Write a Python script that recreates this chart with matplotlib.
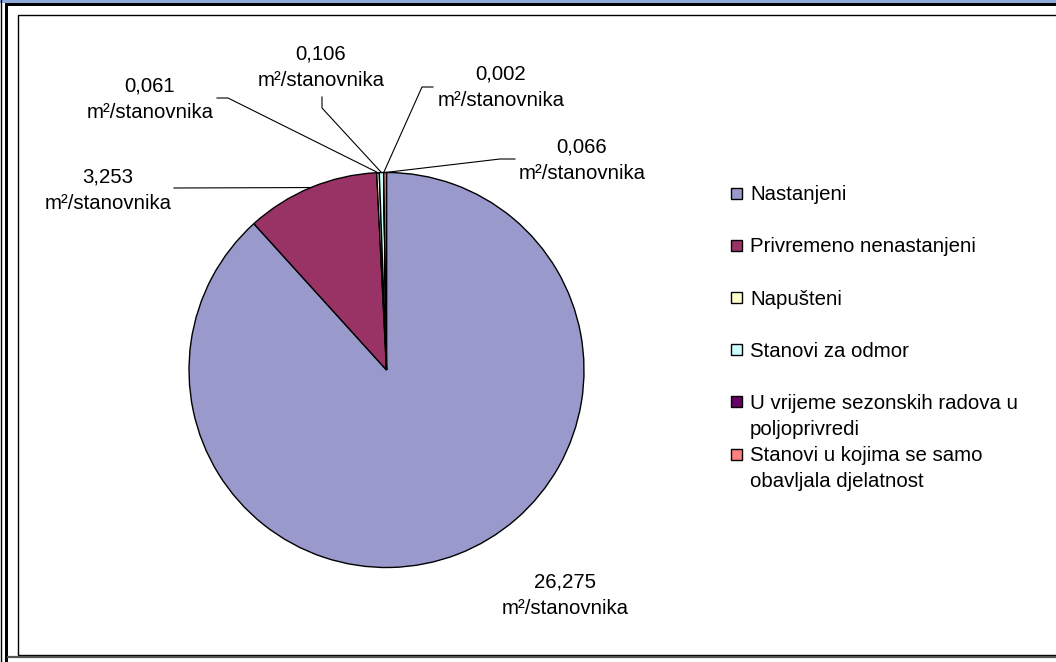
"""Pie chart: housing area per inhabitant by dwelling use."""

import matplotlib
matplotlib.use('Agg')
import matplotlib.pyplot as plt
from matplotlib.patches import Rectangle
from matplotlib.lines import Line2D
from matplotlib import transforms
import numpy as np

plt.rcParams['font.family'] = ['Liberation Sans', 'DejaVu Sans']

# data
categories = [
    'Nastanjeni',
    'Privremeno nenastanjeni',
    'Napušteni',
    'Stanovi za odmor',
    'U vrijeme sezonskih radova u\npoljoprivredi',
    'Stanovi u kojima se samo\nobavljala djelatnost',
]
values = [26.275, 3.253, 0.061, 0.106, 0.002, 0.066]
unit = 'm²/stanovnika'

# Excel-style palette
colors = ['#9999CC', '#993366', '#FFFFCC', '#CCFFFF', '#660066', '#FF8080']

# layout (pixels)
W, H = 1056, 662
CX, CY, R = 386.5, 370.0, 197.5
FS = 14.7
BASE = 7.3          # baseline offset from visual line centre
LINE_GAP = 27
label_xy = [(565, 580), (108, 175), (150, 84), (321, 52), (501, 72), (582, 145)]
leader_pts = [
    None,
    [(174, 188)],
    [(228, 98), (217, 98)],
    [(322, 108), (322, 97)],
    [(422, 87), (433, 87)],
    [(500, 159), (515, 159)],
]

fig = plt.figure(figsize=(W / 100, H / 100), dpi=100, facecolor='white')
px = transforms.Affine2D().scale(1 / W, -1 / H).translate(0, 1) + fig.transFigure

# page frame
fig.add_artist(Rectangle((0, 0), W, 3.2, transform=px, facecolor='#8EAADB', edgecolor='none'))
fig.add_artist(Rectangle((5, 3.2), W, 3.2, transform=px, facecolor='black', edgecolor='none'))
fig.add_artist(Rectangle((5, 3.2), 3.2, H, transform=px, facecolor='black', edgecolor='none'))
fig.add_artist(Line2D([1, 1], [0, H], transform=px, color='black', lw=1.0))
fig.add_artist(Rectangle((17.5, 14.5), W, 640.5, transform=px, facecolor='none',
                         edgecolor='black', lw=1.0))
fig.add_artist(Line2D([8, W], [657, 657], transform=px, color='#555555', lw=1.6))

# pie
ax = fig.add_axes([(CX - R) / W, (H - CY - R) / H, 2 * R / W, 2 * R / H])
wedges, _ = ax.pie(values, colors=colors, startangle=90, counterclock=False,
                   wedgeprops=dict(edgecolor='black', linewidth=1.0))
ax.set_xlim(-1, 1)
ax.set_ylim(-1, 1)
ax.axis('off')

# data labels with leader lines
for w, v, (lx, ly), pts in zip(wedges, values, label_xy, leader_pts):
    txt = f'{v:.3f}'.replace('.', ',')
    fig.text(lx, ly + BASE, txt, transform=px, ha='center', va='baseline', fontsize=FS)
    fig.text(lx, ly + LINE_GAP + BASE, unit, transform=px, ha='center', va='baseline', fontsize=FS)
    if pts:
        mid = np.deg2rad((w.theta1 + w.theta2) / 2)
        ex, ey = CX + R * np.cos(mid), CY - R * np.sin(mid)
        xs = [ex] + [p[0] for p in pts]
        ys = [ey] + [p[1] for p in pts]
        fig.add_artist(Line2D(xs, ys, transform=px, color='black', lw=0.8))

# legend
LEG_X, LEG_Y0, LEG_STEP = 731, 193, 52.2
for i, (name, c) in enumerate(zip(categories, colors)):
    y = LEG_Y0 + i * LEG_STEP
    fig.add_artist(Rectangle((LEG_X, y - 5.5), 11, 11, transform=px, facecolor=c,
                             edgecolor='black', lw=1.0))
    for j, line in enumerate(name.split('\n')):
        fig.text(LEG_X + 19, y + j * 25.5 + BASE, line, transform=px,
                 ha='left', va='baseline', fontsize=FS)

fig.savefig('out.png', dpi=100, facecolor='white')
